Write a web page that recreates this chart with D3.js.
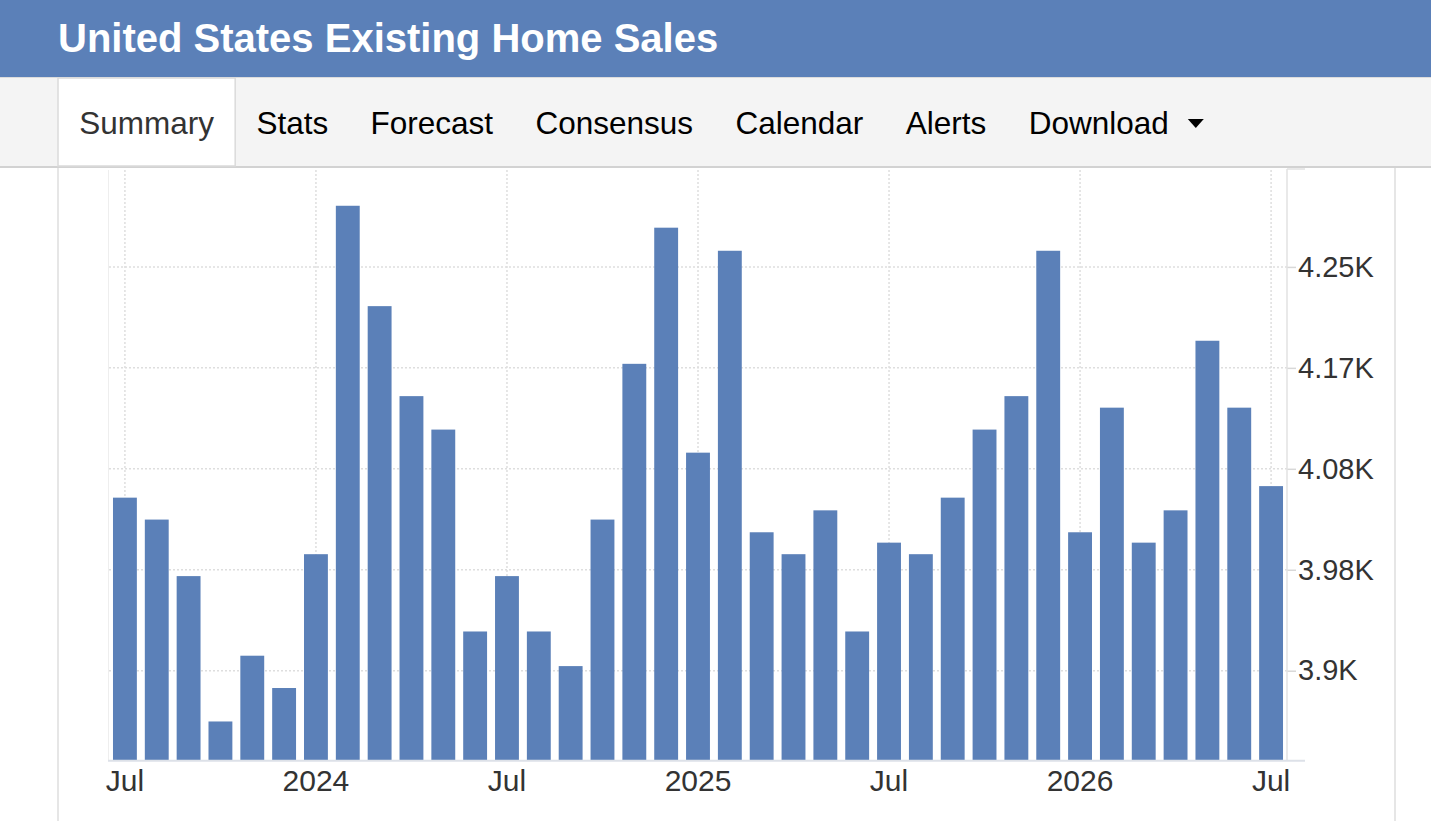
<!DOCTYPE html>
<html>
<head>
<meta charset="utf-8">
<title>United States Existing Home Sales</title>
<script src="https://d3js.org/d3.v7.min.js"></script>
<style type="text/css">
html, body { margin:0; padding:0; background:#fff; }
svg { display:block; font-family: "Liberation Sans", Arial, Helvetica, sans-serif; }
</style>
</head>
<body>
<svg id="chart" width="1431" height="821"></svg>
<script>
// months shown, Jul 2023 .. Jul 2026
var months = ["2023-07","2023-08","2023-09","2023-10","2023-11","2023-12",
  "2024-01","2024-02","2024-03","2024-04","2024-05","2024-06",
  "2024-07","2024-08","2024-09","2024-10","2024-11","2024-12",
  "2025-01","2025-02","2025-03","2025-04","2025-05","2025-06",
  "2025-07","2025-08","2025-09","2025-10","2025-11","2025-12",
  "2026-01","2026-02","2026-03","2026-04","2026-05","2026-06","2026-07"];
// existing home sales (thousands)
var sales = [4050, 4031, 3982, 3856, 3913, 3885,
  4001, 4303, 4216, 4138, 4109, 3934,
  3982, 3934, 3904, 4031, 4166, 4284,
  4089, 4264, 4020, 4001, 4039, 3934,
  4011, 4001, 4050, 4109, 4138, 4264,
  4020, 4128, 4011, 4039, 4186, 4128, 4060];
var xTickMonths = ["2023-07","2024-01","2024-07","2025-01","2025-07","2026-01","2026-07"];
var xTickLabels = ["Jul","2024","Jul","2025","Jul","2026","Jul"];
var yTickValues = [3900, 3987.5, 4075, 4162.5, 4250];
var yTickLabels = ["3.9K","3.98K","4.08K","4.17K","4.25K"];
var tabs = ["Summary","Stats","Forecast","Consensus","Calendar","Alerts","Download"];

var W = 1431, H = 821;
var blue = "#5b80b8";
var svg = d3.select("#chart");

// header band
svg.append("rect").attr("x",0).attr("y",0).attr("width",W).attr("height",77).attr("fill",blue);
svg.append("text").attr("x",58).attr("y",52)
  .attr("fill","#fff").attr("font-weight","bold").attr("font-size",40)
  .text("United States Existing Home Sales");

// tab bar
svg.append("rect").attr("x",0).attr("y",77).attr("width",W).attr("height",90).attr("fill","#f4f4f4");
svg.append("line").attr("x1",0).attr("x2",W).attr("y1",77.5).attr("y2",77.5).attr("stroke","#dcdcdc");
svg.append("line").attr("x1",0).attr("x2",W).attr("y1",167).attr("y2",167).attr("stroke","#d2d2d2").attr("stroke-width",2);

var tabG = svg.append("g");
var tx = 58, pad = 21.2;
tabs.forEach(function(t, i) {
  var txt = tabG.append("text").attr("x", tx + pad).attr("y", 134)
    .attr("font-size", 31.5).attr("fill", i == 0 ? "#333" : "#000").text(t);
  var w = txt.node().getComputedTextLength();
  if (i == 0) {
    tabG.insert("rect", "text").attr("x", tx).attr("y", 78).attr("width", w + pad*2).attr("height", 88)
      .attr("fill", "#fff").attr("stroke", "#dadada").attr("stroke-width", 1.5);
  }
  if (t == "Download") {
    var cx = tx + pad + w + 27;
    tabG.append("path").attr("d", "M" + (cx-8) + ",119 L" + (cx+8) + ",119 L" + cx + ",128 Z").attr("fill", "#000");
  }
  tx += w + pad*2;
});

// page side borders
svg.append("line").attr("x1",58).attr("x2",58).attr("y1",168).attr("y2",H).attr("stroke","#e6e6e6").attr("stroke-width",2);
svg.append("line").attr("x1",1395).attr("x2",1395).attr("y1",168).attr("y2",H).attr("stroke","#e6e6e6").attr("stroke-width",2);

// scales
var plotL = 109, plotR = 1287, plotT = 170, plotB = 760.7;
var x = d3.scaleBand().domain(months).range([plotL, plotR]).paddingInner(0.25).paddingOuter(0.125);
var y = d3.scaleLinear().domain([3822, 4334]).range([plotB, plotT]);

// grid
var grid = svg.append("g");
grid.selectAll("line.h").data(yTickValues).enter().append("line")
  .attr("x1", plotL).attr("x2", plotR).attr("y1", function(d){ return y(d); }).attr("y2", function(d){ return y(d); })
  .attr("stroke", "#dedede").attr("stroke-width", 1.5).attr("stroke-dasharray", "2,2");
grid.selectAll("line.v").data(xTickMonths).enter().append("line")
  .attr("x1", function(d){ return x(d) + x.bandwidth()/2; }).attr("x2", function(d){ return x(d) + x.bandwidth()/2; })
  .attr("y1", plotT).attr("y2", plotB)
  .attr("stroke", "#dedede").attr("stroke-width", 1.5).attr("stroke-dasharray", "2,2");
svg.append("line").attr("x1", plotL-0.5).attr("x2", plotL-0.5).attr("y1", plotT).attr("y2", plotB).attr("stroke", "#eeeeee");

// bars
svg.append("g").selectAll("rect").data(sales).enter().append("rect")
  .attr("x", function(d, i){ return x(months[i]); })
  .attr("width", x.bandwidth())
  .attr("y", function(d){ return y(d); })
  .attr("height", function(d){ return plotB - y(d); })
  .attr("fill", blue);

// right axis
var yAxis = d3.axisRight(y).tickValues(yTickValues)
  .tickFormat(function(d, i){ return yTickLabels[i]; }).tickSize(9).tickPadding(2);
var yg = svg.append("g").attr("transform", "translate(" + plotR + ",0)").call(yAxis);
yg.select(".domain").remove();
yg.selectAll(".tick line").attr("stroke", "#d8d8d8").attr("stroke-width", 1.5);
yg.selectAll(".tick text").attr("font-size", 29).attr("fill", "#333").attr("font-family", "Liberation Sans, Arial, sans-serif");
svg.append("line").attr("x1", plotR).attr("x2", plotR).attr("y1", plotT - 1).attr("y2", plotB)
  .attr("stroke", "#e2e2e2").attr("stroke-width", 1.5);
svg.append("line").attr("x1", plotR).attr("x2", 1305).attr("y1", plotT - 1).attr("y2", plotT - 1)
  .attr("stroke", "#e2e2e2").attr("stroke-width", 1.5);

// bottom axis
var xAxis = d3.axisBottom(x).tickValues(xTickMonths)
  .tickFormat(function(d, i){ return xTickLabels[i]; }).tickSize(0).tickPadding(9);
var xg = svg.append("g").attr("transform", "translate(0," + plotB + ")").call(xAxis);
xg.select(".domain").remove();
xg.selectAll(".tick text").attr("font-size", 30).attr("fill", "#333").attr("font-family", "Liberation Sans, Arial, sans-serif");
svg.append("line").attr("x1", plotL - 1).attr("x2", 1305).attr("y1", plotB).attr("y2", plotB)
  .attr("stroke", "#dde1e8").attr("stroke-width", 2);
</script>
</body>
</html>
